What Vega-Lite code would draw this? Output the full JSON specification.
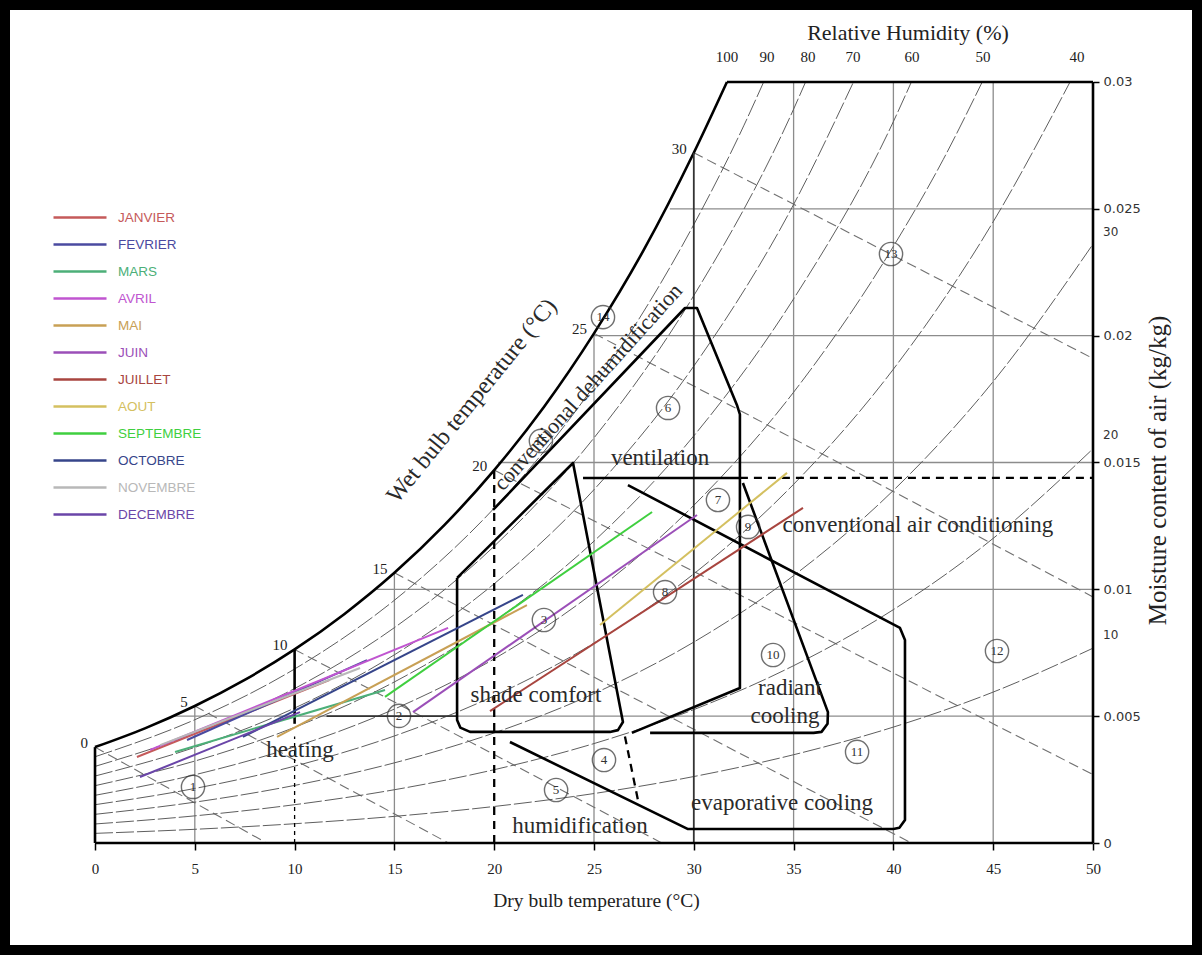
{
"$schema": "https://vega.github.io/schema/vega-lite/v6.json",
"width": 1202, "height": 955, "autosize": {"type": "none"}, "padding": 0,
"background": "white",
"config": {"view": {"stroke": "black", "strokeWidth": 20}},
"datasets": {
"curves": [
{"c":"100","T":0,"w":0.00378},{"c":"100","T":2.5,"w":0.00452},{"c":"100","T":5,"w":0.0054},{"c":"100","T":7.5,"w":0.00643},{"c":"100","T":10,"w":0.00763},{"c":"100","T":12.5,"w":0.00903},{"c":"100","T":15,"w":0.01065},{"c":"100","T":17.5,"w":0.01253},{"c":"100","T":20,"w":0.0147},{"c":"100","T":22.5,"w":0.0172},{"c":"100","T":25,"w":0.02009},{"c":"100","T":27.5,"w":0.02339},{"c":"100","T":30,"w":0.02721},{"c":"100","T":31.66,"w":0.03},
{"c":"90","T":0,"w":0.0034},{"c":"90","T":5,"w":0.00486},{"c":"90","T":10,"w":0.00686},{"c":"90","T":15,"w":0.00957},{"c":"90","T":20,"w":0.0132},{"c":"90","T":22.5,"w":0.01544},{"c":"90","T":25,"w":0.01802},{"c":"90","T":27.5,"w":0.02097},{"c":"90","T":30,"w":0.02438},{"c":"90","T":32.5,"w":0.02827},{"c":"90","T":33.5,"w":0.03},
{"c":"80","T":0,"w":0.00302},{"c":"80","T":5,"w":0.00432},{"c":"80","T":10,"w":0.00609},{"c":"80","T":15,"w":0.00849},{"c":"80","T":20,"w":0.0117},{"c":"80","T":25,"w":0.01597},{"c":"80","T":30,"w":0.02158},{"c":"80","T":35,"w":0.02893},{"c":"80","T":35.6,"w":0.03},
{"c":"70","T":0,"w":0.00264},{"c":"70","T":5,"w":0.00377},{"c":"70","T":10,"w":0.00532},{"c":"70","T":15,"w":0.00742},{"c":"70","T":20,"w":0.01022},{"c":"70","T":25,"w":0.01393},{"c":"70","T":30,"w":0.0188},{"c":"70","T":35,"w":0.02517},{"c":"70","T":38.0,"w":0.03},
{"c":"60","T":0,"w":0.00226},{"c":"60","T":5,"w":0.00323},{"c":"60","T":10,"w":0.00456},{"c":"60","T":15,"w":0.00635},{"c":"60","T":20,"w":0.00874},{"c":"60","T":25,"w":0.0119},{"c":"60","T":30,"w":0.01605},{"c":"60","T":35,"w":0.02145},{"c":"60","T":40,"w":0.02844},{"c":"60","T":40.9,"w":0.03},
{"c":"50","T":0,"w":0.00188},{"c":"50","T":5,"w":0.00269},{"c":"50","T":10,"w":0.00379},{"c":"50","T":15,"w":0.00528},{"c":"50","T":20,"w":0.00726},{"c":"50","T":25,"w":0.00988},{"c":"50","T":30,"w":0.01331},{"c":"50","T":35,"w":0.01777},{"c":"50","T":40,"w":0.02352},{"c":"50","T":42.5,"w":0.02695},{"c":"50","T":44.45,"w":0.03},
{"c":"40","T":0,"w":0.00151},{"c":"40","T":5,"w":0.00215},{"c":"40","T":10,"w":0.00303},{"c":"40","T":15,"w":0.00422},{"c":"40","T":20,"w":0.0058},{"c":"40","T":25,"w":0.00788},{"c":"40","T":30,"w":0.01061},{"c":"40","T":35,"w":0.01414},{"c":"40","T":40,"w":0.01868},{"c":"40","T":45,"w":0.02449},{"c":"40","T":48.85,"w":0.03},
{"c":"30","T":0,"w":0.00113},{"c":"30","T":5,"w":0.00161},{"c":"30","T":10,"w":0.00227},{"c":"30","T":15,"w":0.00316},{"c":"30","T":20,"w":0.00434},{"c":"30","T":25,"w":0.00589},{"c":"30","T":30,"w":0.00792},{"c":"30","T":35,"w":0.01054},{"c":"30","T":40,"w":0.0139},{"c":"30","T":45,"w":0.01819},{"c":"30","T":50,"w":0.02361},
{"c":"20","T":0,"w":0.00075},{"c":"20","T":5,"w":0.00107},{"c":"20","T":10,"w":0.00151},{"c":"20","T":15,"w":0.0021},{"c":"20","T":20,"w":0.00289},{"c":"20","T":25,"w":0.00392},{"c":"20","T":30,"w":0.00526},{"c":"20","T":35,"w":0.00699},{"c":"20","T":40,"w":0.0092},{"c":"20","T":45,"w":0.01201},{"c":"20","T":50,"w":0.01554},
{"c":"10","T":0,"w":0.00038},{"c":"10","T":5,"w":0.00054},{"c":"10","T":10,"w":0.00076},{"c":"10","T":15,"w":0.00105},{"c":"10","T":20,"w":0.00144},{"c":"10","T":25,"w":0.00195},{"c":"10","T":30,"w":0.00262},{"c":"10","T":35,"w":0.00348},{"c":"10","T":40,"w":0.00457},{"c":"10","T":45,"w":0.00595},{"c":"10","T":50,"w":0.00768}
],
"segs": [
{"s":"grid","T":5,"w":0,"T2":5,"w2":0.0054},
{"s":"grid","T":15,"w":0,"T2":15,"w2":0.01065},
{"s":"grid","T":25,"w":0,"T2":25,"w2":0.02009},
{"s":"grid","T":35,"w":0,"T2":35,"w2":0.03},
{"s":"grid","T":40,"w":0,"T2":40,"w2":0.03},
{"s":"grid","T":45,"w":0,"T2":45,"w2":0.03},
{"s":"grid","T":3.9,"w":0.005,"T2":50,"w2":0.005},
{"s":"grid","T":14.1,"w":0.01,"T2":50,"w2":0.01},
{"s":"grid","T":20.2,"w":0.015,"T2":50,"w2":0.015},
{"s":"grid","T":24.95,"w":0.02,"T2":50,"w2":0.02},
{"s":"grid","T":28.8,"w":0.025,"T2":50,"w2":0.025},
{"s":"dark","T":30,"w":0,"T2":30,"w2":0.02721},
{"s":"dark","T":11.6,"w":0.005,"T2":18.14,"w2":0.005},
{"s":"thick","T":0,"w":0,"T2":50,"w2":0},
{"s":"thick","T":50,"w":0,"T2":50,"w2":0.03},
{"s":"thick","T":31.66,"w":0.03,"T2":50,"w2":0.03},
{"s":"thick","T":0,"w":0,"T2":0,"w2":0.00378},
{"s":"thick","T":10,"w":0.0047,"T2":10,"w2":0.00763},
{"s":"thick","T":24.45,"w":0.01439,"T2":32.31,"w2":0.01439},
{"s":"tdash","T":20,"w":0,"T2":20,"w2":0.0147},
{"s":"tdash","T":32.31,"w":0.01439,"T2":50,"w2":0.01439},
{"s":"tdash","T":26.55,"w":0.0042,"T2":27.2,"w2":0.0017},
{"s":"dash","T":10,"w":0,"T2":10,"w2":0.0042},
{"s":"wb","T":0,"w":0.00378,"T2":8.6,"w2":0},
{"s":"wb","T":5,"w":0.0054,"T2":17.7,"w2":0},
{"s":"wb","T":10,"w":0.00763,"T2":28.4,"w2":0},
{"s":"wb","T":15,"w":0.01065,"T2":40.9,"w2":0},
{"s":"wb","T":20,"w":0.0147,"T2":50,"w2":0.0027},
{"s":"wb","T":25,"w":0.02009,"T2":50,"w2":0.0097},
{"s":"wb","T":30,"w":0.02721,"T2":50,"w2":0.0191}
],
"zones": [
{"z":"A","i":1,"T":18.14,"w":0.01045},{"z":"A","i":2,"T":23.95,"w":0.01498},{"z":"A","i":3,"T":26.45,"w":0.00477},{"z":"A","i":4,"T":26.2,"w":0.00445},{"z":"A","i":5,"T":25.8,"w":0.00438},{"z":"A","i":6,"T":18.79,"w":0.00438},{"z":"A","i":7,"T":18.3,"w":0.00455},{"z":"A","i":8,"T":18.14,"w":0.00485},{"z":"A","i":9,"T":18.14,"w":0.01045},
{"z":"B","i":1,"T":19.94,"w":0.01313},{"z":"B","i":2,"T":29.56,"w":0.02109},{"z":"B","i":3,"T":30.16,"w":0.02109},{"z":"B","i":4,"T":32.16,"w":0.01727},{"z":"B","i":5,"T":32.31,"w":0.0169},{"z":"B","i":6,"T":32.31,"w":0.00611},{"z":"B","i":7,"T":26.9,"w":0.00434},
{"z":"C","i":1,"T":26.7,"w":0.01411},{"z":"C","i":2,"T":40.33,"w":0.00848},{"z":"C","i":3,"T":40.58,"w":0.008},{"z":"C","i":4,"T":40.58,"w":0.00091},{"z":"C","i":5,"T":40.3,"w":0.0006},{"z":"C","i":6,"T":40.0,"w":0.00055},{"z":"C","i":7,"T":29.71,"w":0.00055},{"z":"C","i":8,"T":20.79,"w":0.00398},
{"z":"D","i":1,"T":32.46,"w":0.01419},{"z":"D","i":2,"T":36.72,"w":0.00516},{"z":"D","i":3,"T":36.7,"w":0.0047},{"z":"D","i":4,"T":36.4,"w":0.00438},{"z":"D","i":5,"T":36.0,"w":0.00434},{"z":"D","i":6,"T":27.81,"w":0.00434}
],
"months": [
{"m":"JANVIER","T":2.1,"w":0.00339},{"m":"JANVIER","T":11.77,"w":0.00643},
{"m":"FEVRIER","T":4.61,"w":0.00406},{"m":"FEVRIER","T":13.63,"w":0.00721},
{"m":"MARS","T":4.01,"w":0.00359},{"m":"MARS","T":14.53,"w":0.00603},
{"m":"AVRIL","T":2.76,"w":0.00367},{"m":"AVRIL","T":17.69,"w":0.00848},
{"m":"MAI","T":9.12,"w":0.00418},{"m":"MAI","T":21.64,"w":0.00938},
{"m":"JUIN","T":15.93,"w":0.00516},{"m":"JUIN","T":30.16,"w":0.01293},
{"m":"JUILLET","T":19.79,"w":0.0052},{"m":"JUILLET","T":35.47,"w":0.01321},
{"m":"AOUT","T":25.3,"w":0.00859},{"m":"AOUT","T":34.67,"w":0.01459},
{"m":"SEPTEMBRE","T":14.53,"w":0.00576},{"m":"SEPTEMBRE","T":27.91,"w":0.01305},
{"m":"OCTOBRE","T":7.41,"w":0.00418},{"m":"OCTOBRE","T":21.44,"w":0.00978},
{"m":"NOVEMBRE","T":3.26,"w":0.00386},{"m":"NOVEMBRE","T":13.28,"w":0.0069},
{"m":"DECEMBRE","T":2.25,"w":0.0026},{"m":"DECEMBRE","T":10.27,"w":0.00516}
],
"circles": [
{"n":"1","T":4.91,"w":0.00221},{"n":"2","T":15.23,"w":0.00501},{"n":"3","T":22.49,"w":0.00879},{"n":"4","T":25.5,"w":0.00327},{"n":"5","T":23.1,"w":0.00209},{"n":"6","T":28.71,"w":0.01715},{"n":"7","T":31.21,"w":0.01352},{"n":"8","T":28.56,"w":0.00989},{"n":"9","T":32.72,"w":0.01246},{"n":"10","T":33.97,"w":0.00741},{"n":"11","T":38.18,"w":0.00359},{"n":"12","T":45.19,"w":0.00757},{"n":"13","T":39.88,"w":0.02322},{"n":"14","T":25.45,"w":0.02073},{"n":"15","T":22.34,"w":0.01585}
],
"ztext": [
{"t":"heating","T":10.27,"w":0.00367},{"t":"shade comfort","T":22.09,"w":0.00583},{"t":"ventilation","T":28.31,"w":0.01518},{"t":"conventional air conditioning","T":41.23,"w":0.01254},{"t":"radiant","T":34.82,"w":0.00611},{"t":"cooling","T":34.57,"w":0.00501},{"t":"evaporative cooling","T":34.42,"w":0.00158},{"t":"humidification","T":24.3,"w":0.00067}
],
"rot": [
{"t":"conventional dehumidification","k":"a","T":24.7,"w":0.01798},
{"t":"Wet bulb temperature (°C)","k":"b","T":18.89,"w":0.01742}
],
"wbl": [
{"t":"0","T":0,"w":0.00378},{"t":"5","T":5,"w":0.0054},{"t":"10","T":10,"w":0.00763},{"t":"15","T":15,"w":0.01065},{"t":"20","T":20,"w":0.0147},{"t":"25","T":25,"w":0.02009},{"t":"30","T":30,"w":0.02721}
],
"rht": [
{"t":"100","T":31.66,"w":0.03},{"t":"90","T":33.67,"w":0.03},{"t":"80","T":35.72,"w":0.03},{"t":"70","T":37.98,"w":0.03},{"t":"60","T":40.93,"w":0.03},{"t":"50","T":44.49,"w":0.03},{"t":"40","T":49.2,"w":0.03}
],
"rhr": [
{"t":"30","T":50,"w":0.0241},{"t":"20","T":50,"w":0.0161},{"t":"10","T":50,"w":0.0082}
],
"ttl": [
{"t":"Relative Humidity (%)","T":40.73,"w":0.03}
]
},
"encoding": {
"x": {"field": "T", "type": "quantitative",
 "scale": {"domain": [-4.76, 55.461], "nice": false, "zero": false},
 "axis": {"orient": "bottom", "offset": -112, "values": [0,5,10,15,20,25,30,35,40,45,50], "domain": false, "grid": false,
  "tickColor": "black", "tickSize": 7, "tickWidth": 1.5, "labelFont": "Liberation Serif", "labelFontSize": 15, "labelColor": "#222", "labelPadding": 11,
  "title": "Dry bulb temperature (°C)", "titleFont": "Liberation Serif", "titleFontSize": 19.5, "titleFontWeight": "normal", "titleColor": "#222", "titlePadding": 15, "titleX": 596}},
"y": {"field": "w", "type": "quantitative",
 "scale": {"domain": [-0.004415, 0.033232], "nice": false, "zero": false},
 "axis": {"orient": "right", "offset": -109, "values": [0,0.005,0.01,0.015,0.02,0.025,0.03], "format": ".3~f", "domain": false, "grid": false,
  "tickColor": "black", "tickSize": 6, "tickWidth": 1.5, "labelFont": "DejaVu Sans", "labelFontSize": 13, "labelColor": "#333", "labelPadding": 4,
  "title": "Moisture content of air (kg/kg)", "titleAngle": 270, "titleFont": "Liberation Serif", "titleFontSize": 25, "titleFontWeight": "normal", "titleColor": "#222", "titlePadding": 30, "titleY": 470}}
},
"layer": [
{"data": {"name": "segs"}, "transform": [{"filter": "datum.s == 'grid'"}], "mark": {"type": "rule", "stroke": "#8c8c8c", "strokeWidth": 1.3}, "encoding": {"x2": {"field": "T2"}, "y2": {"field": "w2"}}},
{"data": {"name": "segs"}, "transform": [{"filter": "datum.s == 'wb'"}], "mark": {"type": "rule", "stroke": "#707070", "strokeWidth": 1.1, "strokeDash": [10, 5]}, "encoding": {"x2": {"field": "T2"}, "y2": {"field": "w2"}}},
{"data": {"name": "curves"}, "transform": [{"filter": "datum.c != '100'"}], "mark": {"type": "line", "stroke": "#555", "strokeWidth": 0.95, "strokeDash": [18, 3], "interpolate": "monotone"}, "encoding": {"detail": {"field": "c"}}},
{"data": {"name": "curves"}, "transform": [{"filter": "datum.c == '100'"}], "mark": {"type": "line", "stroke": "black", "strokeWidth": 2.6, "interpolate": "monotone"}, "encoding": {}},
{"data": {"name": "segs"}, "transform": [{"filter": "datum.s == 'dark'"}], "mark": {"type": "rule", "stroke": "#333", "strokeWidth": 1.8}, "encoding": {"x2": {"field": "T2"}, "y2": {"field": "w2"}}},
{"data": {"name": "segs"}, "transform": [{"filter": "datum.s == 'thick'"}], "mark": {"type": "rule", "stroke": "black", "strokeWidth": 2.6}, "encoding": {"x2": {"field": "T2"}, "y2": {"field": "w2"}}},
{"data": {"name": "segs"}, "transform": [{"filter": "datum.s == 'tdash'"}], "mark": {"type": "rule", "stroke": "black", "strokeWidth": 2.3, "strokeDash": [8, 6]}, "encoding": {"x2": {"field": "T2"}, "y2": {"field": "w2"}}},
{"data": {"name": "segs"}, "transform": [{"filter": "datum.s == 'dash'"}], "mark": {"type": "rule", "stroke": "black", "strokeWidth": 1.3, "strokeDash": [4, 4]}, "encoding": {"x2": {"field": "T2"}, "y2": {"field": "w2"}}},
{"data": {"name": "zones"}, "mark": {"type": "line", "stroke": "black", "strokeWidth": 2.6, "strokeJoin": "round"}, "encoding": {"detail": {"field": "z"}, "order": {"field": "i", "type": "quantitative"}}},
{"data": {"name": "months"}, "mark": {"type": "line", "strokeWidth": 2}, "encoding": {
 "color": {"field": "m", "type": "nominal",
  "scale": {"domain": ["JANVIER","FEVRIER","MARS","AVRIL","MAI","JUIN","JUILLET","AOUT","SEPTEMBRE","OCTOBRE","NOVEMBRE","DECEMBRE"],
   "range": ["#c55a5a","#4a4aa0","#4caf78","#c055d0","#c8a055","#9b4fb8","#a8453f","#d4c060","#3fcf3f","#36458a","#b8b8b8","#6a45a8"]},
  "legend": {"orient": "none", "legendX": 52, "legendY": 204, "title": null, "symbolType": "stroke", "symbolSize": 2809, "symbolStrokeWidth": 2.5, "clipHeight": 27, "rowPadding": 0, "labelFont": "Liberation Sans", "labelFontSize": 13.5, "labelOffset": 10,
   "encode": {"labels": {"update": {"fill": {"scale": "color", "field": "value"}}}}}}}},
{"data": {"name": "circles"}, "mark": {"type": "point", "shape": "circle", "size": 540, "filled": false, "stroke": "#333", "strokeWidth": 1.4}, "encoding": {}},
{"data": {"name": "circles"}, "mark": {"type": "text", "font": "Liberation Serif", "fontSize": 13, "fill": "#333", "baseline": "middle", "align": "center"}, "encoding": {"text": {"field": "n"}}},
{"data": {"name": "ztext"}, "mark": {"type": "text", "font": "Liberation Serif", "fontSize": 23, "fill": "#2a2a2a", "baseline": "middle", "align": "center"}, "encoding": {"text": {"field": "t"}}},
{"data": {"name": "rot"}, "transform": [{"filter": "datum.k == 'a'"}], "mark": {"type": "text", "font": "Liberation Serif", "fontSize": 22, "fill": "#2a2a2a", "baseline": "middle", "align": "center", "angle": -48}, "encoding": {"text": {"field": "t"}}},
{"data": {"name": "rot"}, "transform": [{"filter": "datum.k == 'b'"}], "mark": {"type": "text", "font": "Liberation Serif", "fontSize": 24, "fill": "#2a2a2a", "baseline": "middle", "align": "center", "angle": -51}, "encoding": {"text": {"field": "t"}}},
{"data": {"name": "wbl"}, "mark": {"type": "text", "font": "Liberation Serif", "fontSize": 15, "fill": "#222", "baseline": "middle", "align": "right", "dx": -7, "dy": -4}, "encoding": {"text": {"field": "t"}}},
{"data": {"name": "rht"}, "mark": {"type": "text", "font": "Liberation Serif", "fontSize": 15, "fill": "#222", "baseline": "middle", "align": "center", "dy": -25}, "encoding": {"text": {"field": "t"}}},
{"data": {"name": "rhr"}, "mark": {"type": "text", "font": "DejaVu Sans", "fontSize": 12, "fill": "#333", "baseline": "middle", "align": "left", "dx": 10}, "encoding": {"text": {"field": "t"}}},
{"data": {"name": "ttl"}, "mark": {"type": "text", "font": "Liberation Serif", "fontSize": 22, "fill": "#222", "baseline": "middle", "align": "center", "dy": -49}, "encoding": {"text": {"field": "t"}}}
]
}
